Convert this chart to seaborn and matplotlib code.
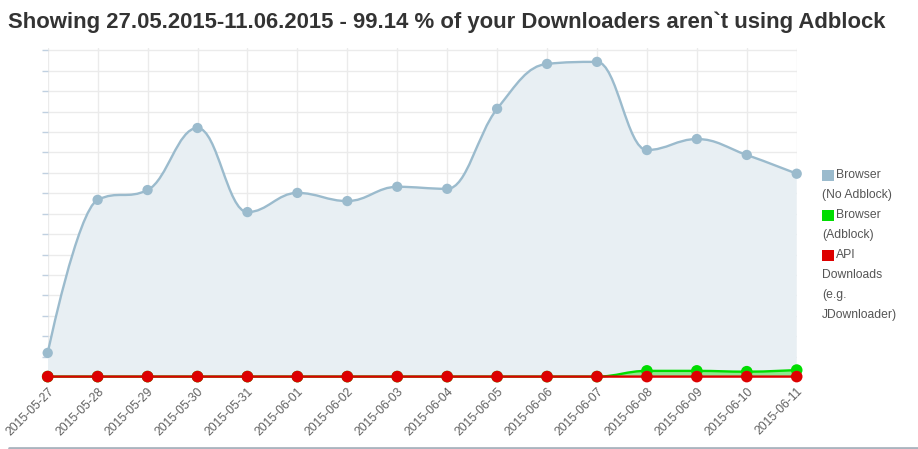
import numpy as np
import matplotlib
matplotlib.use("Agg")
import matplotlib.pyplot as plt
from matplotlib.path import Path
from matplotlib.patches import PathPatch, Rectangle
from matplotlib.lines import Line2D
import seaborn as sns
import pandas as pd

# data
dates = ["2015-05-27", "2015-05-28", "2015-05-29", "2015-05-30", "2015-05-31",
         "2015-06-01", "2015-06-02", "2015-06-03", "2015-06-04", "2015-06-05",
         "2015-06-06", "2015-06-07", "2015-06-08", "2015-06-09", "2015-06-10",
         "2015-06-11"]
no_adblock = [59, 434, 458, 610, 404, 451, 431, 466, 461, 657, 767, 772, 556, 583, 544, 498]
adblock = [1, 1, 1, 1, 1, 1, 1, 1, 1, 1, 1, 1, 15, 15, 13, 17]
api = [1, 1, 1, 1, 1, 1, 1, 1, 1, 1, 1, 1, 1, 1, 1, 1]

title = "Showing 27.05.2015-11.06.2015 - 99.14 % of your Downloaders aren`t using Adblock"
legend_lines = [["Browser", "(No Adblock)"], ["Browser", "(Adblock)"],
                ["API", "Downloads", "(e.g.", "JDownloader)"]]
colors = ["#9bbbcd", "#00dd00", "#dd0000"]
fills = ["#e8eff3", "#8ee88e", "#e88e8e"]

sns.set_theme(style="white")
plt.rcParams['font.family'] = ['Liberation Sans', 'DejaVu Sans']

W, H = 918, 449
fig = plt.figure(figsize=(W / 100, H / 100), dpi=100)
x0, x1, y0, y1 = 47.7, 796.7, 377, 48
ax = fig.add_axes([x0 / W, 1 - y0 / H, (x1 - x0) / W, (y0 - y1) / H])


def spline(xs, ys, smoothing=1.5):
    # highcharts-like spline: bezier control points from neighbours
    denom = smoothing + 1
    verts = [(xs[0], ys[0])]
    codes = [Path.MOVETO]
    prev_right = (xs[0], ys[0])
    n = len(xs)
    for i in range(1, n):
        x, y = xs[i], ys[i]
        if i < n - 1:
            lx, ly = xs[i - 1], ys[i - 1]
            nx, ny = xs[i + 1], ys[i + 1]
            lcx = (smoothing * x + lx) / denom
            lcy = (smoothing * y + ly) / denom
            rcx = (smoothing * x + nx) / denom
            rcy = (smoothing * y + ny) / denom
            corr = (rcy - lcy) * (rcx - x) / (rcx - lcx) + y - rcy
            lcy += corr
            rcy += corr
            if lcy > ly and lcy > y:
                lcy = max(ly, y)
                rcy = 2 * y - lcy
            elif lcy < ly and lcy < y:
                lcy = min(ly, y)
                rcy = 2 * y - lcy
            if rcy > ny and rcy > y:
                rcy = max(ny, y)
                lcy = 2 * y - rcy
            elif rcy < ny and rcy < y:
                rcy = min(ny, y)
                lcy = 2 * y - rcy
            left, right = (lcx, lcy), (rcx, rcy)
        else:
            left, right = (x, y), None
        verts += [prev_right, left, (x, y)]
        codes += [Path.CURVE4] * 3
        prev_right = right
    return verts, codes


xs = np.arange(len(dates))
series = [no_adblock, adblock, api]
for k, vals in enumerate(series):
    verts, codes = spline(xs, vals)
    area = verts + [(xs[-1], 0), (xs[0], 0), (xs[0], vals[0])]
    acodes = codes + [Path.LINETO, Path.LINETO, Path.CLOSEPOLY]
    if k < 2:
        ax.add_patch(PathPatch(Path(area, acodes), facecolor=fills[k], edgecolor="none",
                               zorder=2 + 3 * k))
    ax.add_patch(PathPatch(Path(verts, codes), facecolor="none", edgecolor=colors[k],
                           lw=1.7, zorder=3 + 3 * k, clip_on=False))
    df = pd.DataFrame({"x": xs, "y": vals})
    sns.scatterplot(data=df, x="x", y="y", ax=ax, color=colors[k], s=55 if k == 0 else 70,
                    edgecolor="none", zorder=4 + 3 * k, clip_on=False, legend=False)

ax.set_xlim(0, 15)
ax.set_ylim(0, 806)
ax.set_yticks(np.arange(0, 801, 50))
ax.set_yticklabels([])
ax.set_xticks(xs)
ax.set_xticklabels(dates, rotation=45, ha="right", rotation_mode="anchor",
                   fontsize=8.7, color="#606060")
ax.tick_params(axis="x", length=0, pad=6)
ax.tick_params(axis="y", length=4, color="#c0d0e0", left=True, width=1)
ax.grid(True, color="#ebebeb", lw=1, zorder=0)
ax.set_axisbelow(True)
ax.set_xlabel("")
ax.set_ylabel("")
for s in ax.spines.values():
    s.set_visible(False)

fig.text(447 / W, 1 - 27.7 / H, title, ha="center", va="baseline", fontsize=15.9,
         fontweight="bold", color="#333333")

# legend
line = 0
for k, lines in enumerate(legend_lines):
    cy = 175 + 20 * line
    fig.patches.append(Rectangle((822 / W, 1 - (cy + 6) / H), 12 / W, 11 / H,
                                 transform=fig.transFigure, facecolor=colors[k],
                                 edgecolor="none"))
    for j, t in enumerate(lines):
        xt = 836 if j == 0 else 822
        fig.text(xt / W, 1 - (175 + 20 * line) / H, t, ha="left", va="center",
                 fontsize=8.7, color="#555555")
        line += 1

fig.lines.append(Line2D([9 / W, 1], [1.5 / H, 1.5 / H], transform=fig.transFigure,
                        color="#aab4be", lw=2))

fig.savefig("out.png", dpi=100)
